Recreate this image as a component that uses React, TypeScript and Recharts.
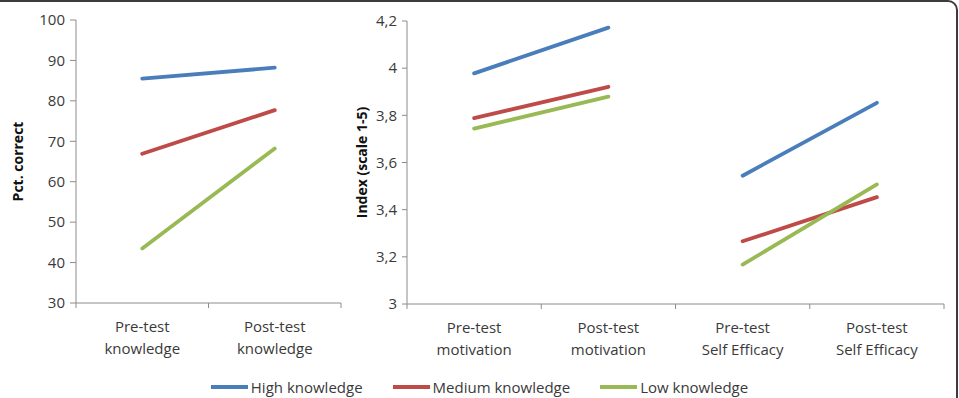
import { LineChart, Line, XAxis, YAxis, Legend } from 'recharts'

const knowledgeCategories = ['Pre-test\nknowledge', 'Post-test\nknowledge']
const highKnowledgePct = [85.5, 88.2]
const mediumKnowledgePct = [66.9, 77.7]
const lowKnowledgePct = [43.5, 68.2]

const indexCategories = [
  'Pre-test\nmotivation',
  'Post-test\nmotivation',
  'Pre-test\nSelf Efficacy',
  'Post-test\nSelf Efficacy',
]
const highKnowledgeIndex = [3.978, 4.172, 3.544, 3.853]
const mediumKnowledgeIndex = [3.788, 3.921, 3.266, 3.453]
const lowKnowledgeIndex = [3.744, 3.879, 3.167, 3.507]
// the lines break between motivation and self efficacy
const indexGroups = [
  [0, 1],
  [2, 3],
]

const pctTicks = [30, 40, 50, 60, 70, 80, 90, 100]
const indexTicks = [3, 3.2, 3.4, 3.6, 3.8, 4, 4.2]

const series = [
  { key: 'high', name: 'High knowledge', color: '#4a7ebb', pct: highKnowledgePct, idx: highKnowledgeIndex },
  { key: 'medium', name: 'Medium knowledge', color: '#be4b48', pct: mediumKnowledgePct, idx: mediumKnowledgeIndex },
  { key: 'low', name: 'Low knowledge', color: '#98b954', pct: lowKnowledgePct, idx: lowKnowledgeIndex },
]

const pctData = knowledgeCategories.map((label, i) => {
  const row: Record<string, any> = { x: i + 0.5, label }
  series.forEach((s) => (row[s.key] = s.pct[i]))
  return row
})

const indexData = indexCategories.map((label, i) => {
  const row: Record<string, any> = { x: i + 0.5, label }
  series.forEach((s) =>
    indexGroups.forEach((g, gi) => {
      row[`${s.key}${gi}`] = g.includes(i) ? s.idx[i] : null
    })
  )
  return row
})

const FONT = '"Open Sans", sans-serif'
const AXIS = '#8c8c8c'
const TEXT = '#3a3a3a'

function makeCategoryTick(labels: string[]) {
  return (props: any) => {
    const { x, y, payload } = props
    const v = payload.value
    if (Number.isInteger(v)) {
      return <line x1={x} x2={x} y1={y} y2={y + 5} stroke={AXIS} strokeWidth={1} />
    }
    const lines = labels[Math.floor(v)].split('\n')
    return (
      <text x={x} y={y} textAnchor="middle" fontFamily={FONT} fontSize={15} fill={TEXT}>
        <tspan x={x} dy={29}>{lines[0]}</tspan>
        <tspan x={x} dy={22}>{lines[1]}</tspan>
      </text>
    )
  }
}

function axisTitle(text: string, dx: number) {
  return (props: any) => {
    const vb = props.viewBox
    const cx = vb.x + dx
    const cy = vb.y + vb.height / 2
    return (
      <text
        x={cx}
        y={cy}
        transform={`rotate(-90 ${cx} ${cy})`}
        textAnchor="middle"
        dominantBaseline="central"
        fontFamily={FONT}
        fontWeight="bold"
        fontSize={14}
        fill="#111"
      >
        {text}
      </text>
    )
  }
}

function LegendContent(props: any) {
  const order = series.map((s) => s.name)
  const items = (props.payload || [])
    .filter((p: any) => p.type !== 'none')
    .sort((a: any, b: any) => order.indexOf(a.value) - order.indexOf(b.value))
  return (
    <div
      style={{
        display: 'flex',
        justifyContent: 'center',
        alignItems: 'center',
        gap: 30,
        fontFamily: FONT,
        fontSize: 15,
        color: TEXT,
        lineHeight: '22px',
      }}
    >
      {items.map((p: any) => (
        <div key={p.value} style={{ display: 'flex', alignItems: 'center' }}>
          <span style={{ display: 'inline-block', width: 37, height: 4, background: p.color, marginRight: 3 }} />
          <span>{p.value}</span>
        </div>
      ))}
    </div>
  )
}

const yTick = { fontFamily: FONT, fontSize: 15, fill: TEXT }

export default function App() {
  return (
    <div
      style={{
        position: 'fixed',
        left: 0,
        top: 0,
        width: 959,
        height: 398,
        overflow: 'hidden',
        background: '#fff',
        fontFamily: FONT,
      }}
    >
      <div
        style={{
          position: 'absolute',
          left: -20,
          top: 0,
          width: 978,
          height: 440,
          border: '2px solid #3c3c3c',
          borderRadius: 10,
          boxSizing: 'border-box',
        }}
      />
      <div style={{ position: 'absolute', left: 0, top: 0 }}>
        <LineChart width={345} height={398} data={pctData} margin={{ top: 20, right: 4, bottom: 0, left: 0 }}>
          <XAxis
            dataKey="x"
            type="number"
            domain={[0, 2]}
            ticks={[0, 0.5, 1, 1.5, 2]}
            interval={0}
            height={95}
            tickSize={0}
            tickMargin={0}
            tickLine={false}
            axisLine={{ stroke: AXIS }}
            tick={makeCategoryTick(knowledgeCategories)}
          />
          <YAxis
            type="number"
            domain={[30, 100]}
            ticks={pctTicks}
            interval={0}
            width={76}
            tickSize={6}
            tickMargin={5}
            axisLine={{ stroke: AXIS }}
            tickLine={{ stroke: AXIS }}
            tick={yTick}
            label={{ content: axisTitle('Pct. correct', 17.5) }}
          />
          {series.map((s) => (
            <Line
              key={s.key}
              dataKey={s.key}
              name={s.name}
              stroke={s.color}
              strokeWidth={3.8}
              strokeLinecap="round"
              dot={false}
              activeDot={false}
              isAnimationActive={false}
            />
          ))}
        </LineChart>
      </div>
      <div style={{ position: 'absolute', left: 345, top: 0 }}>
        <LineChart width={614} height={398} data={indexData} margin={{ top: 21, right: 15, bottom: 0, left: 0 }}>
          <XAxis
            dataKey="x"
            type="number"
            domain={[0, 4]}
            ticks={[0, 0.5, 1, 1.5, 2, 2.5, 3, 3.5, 4]}
            interval={0}
            height={94}
            tickSize={0}
            tickMargin={0}
            tickLine={false}
            axisLine={{ stroke: AXIS }}
            tick={makeCategoryTick(indexCategories)}
          />
          <YAxis
            type="number"
            domain={[3, 4.2]}
            ticks={indexTicks}
            interval={0}
            width={62}
            tickSize={5}
            tickMargin={5}
            axisLine={{ stroke: AXIS }}
            tickLine={{ stroke: AXIS }}
            tick={yTick}
            tickFormatter={(v: number) => String(v).replace('.', ',')}
            label={{ content: axisTitle('Index (scale 1-5)', 16) }}
          />
          <Legend
            layout="horizontal"
            align="center"
            verticalAlign="middle"
            content={<LegendContent />}
            wrapperStyle={{ left: -345, top: 376, width: 959, height: 22 }}
          />
          {indexGroups.map((_, gi) =>
            series.map((s) => (
              <Line
                key={`${s.key}${gi}`}
                dataKey={`${s.key}${gi}`}
                name={s.name}
                legendType={gi === 0 ? 'line' : 'none'}
                stroke={s.color}
                strokeWidth={3.8}
                strokeLinecap="round"
                dot={false}
                activeDot={false}
                connectNulls={false}
                isAnimationActive={false}
              />
            ))
          )}
        </LineChart>
      </div>
    </div>
  )
}
